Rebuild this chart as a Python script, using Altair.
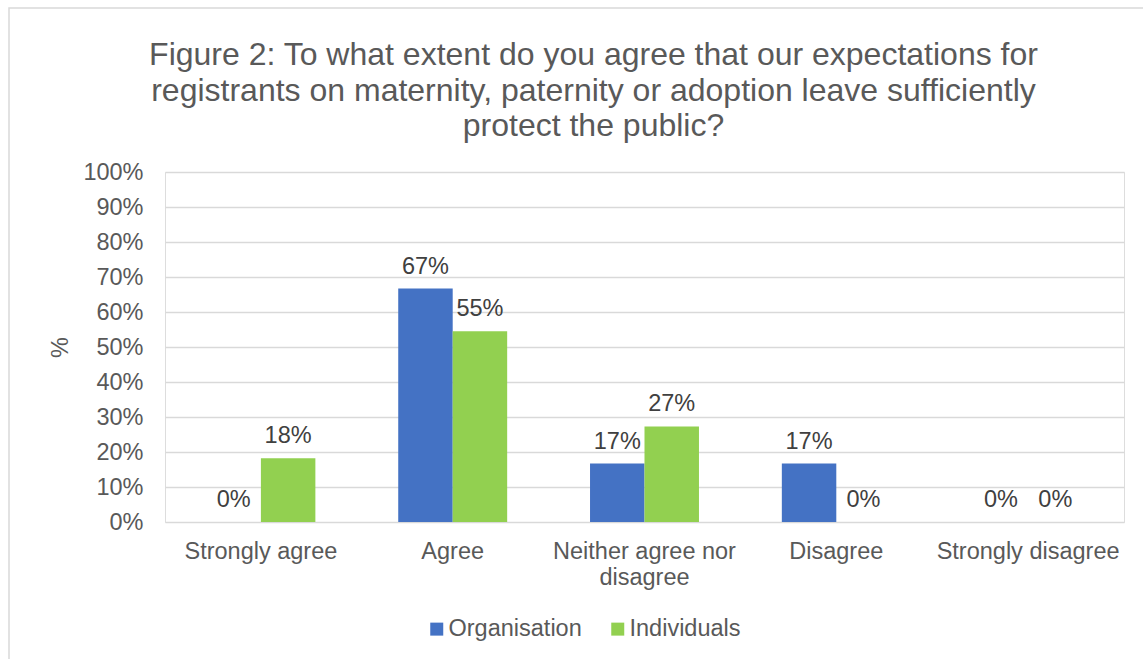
import altair as alt
import pandas as pd

categories = ["Strongly agree", "Agree", "Neither agree nor disagree", "Disagree", "Strongly disagree"]
organisation = [0.0, 66.7, 16.7, 16.7, 0.0]
individuals = [18.2, 54.5, 27.3, 0.0, 0.0]
series = ["Organisation", "Individuals"]
colors = ["#4472C4", "#92D050"]
y_ticks = list(range(0, 101, 10))
title_lines = [
    "Figure 2: To what extent do you agree that our expectations for",
    "registrants on maternity, paternity or adoption leave sufficiently",
    "protect the public?",
]

rows = []
for c, o, i in zip(categories, organisation, individuals):
    rows.append({"category": c, "series": "Organisation", "value": o})
    rows.append({"category": c, "series": "Individuals", "value": i})
df = pd.DataFrame(rows)
df["label"] = [f"{int(v + 0.5)}%" for v in df["value"]]

FONT = "Liberation Sans"
GREY = "#595959"

x = alt.X(
    "category:N",
    sort=categories,
    scale=alt.Scale(paddingInner=0.432, paddingOuter=0.216),
    axis=alt.Axis(
        title=None,
        labelExpr="datum.label == 'Neither agree nor disagree' ? ['Neither agree nor', 'disagree'] : datum.label",
        labelAngle=0,
        labelFontSize=23.5,
        labelColor=GREY,
        labelFont=FONT,
        labelPadding=17,
        labelLineHeight=26,
        labelLimit=400,
        domain=False,
        ticks=False,
        grid=False,
    ),
)
xoff = alt.XOffset("series:N", sort=series, scale=alt.Scale(paddingInner=0, paddingOuter=0))
y = alt.Y(
    "value:Q",
    scale=alt.Scale(domain=[0, 100]),
    axis=alt.Axis(
        title="%",
        values=y_ticks,
        labelExpr="datum.value + '%'",
        labelFontSize=23.5,
        labelColor=GREY,
        labelFont=FONT,
        labelPadding=22,
        titleFontSize=23.5,
        titleColor=GREY,
        titleFont=FONT,
        titleFontWeight="normal",
        titlePadding=10,
        domain=False,
        ticks=False,
        grid=True,
        gridColor="#d9d9d9",
        gridWidth=1.3,
    ),
)

bars = alt.Chart(df).mark_bar().encode(
    x=x,
    xOffset=xoff,
    y=y,
    color=alt.Color(
        "series:N",
        sort=series,
        scale=alt.Scale(domain=series, range=colors),
        legend=alt.Legend(
            title=None,
            orient="none",
            direction="horizontal",
            legendX=260,
            legendY=445,
            symbolType="square",
            symbolSize=169,
            symbolStrokeWidth=0,
            labelFontSize=23.5,
            labelColor=GREY,
            labelFont=FONT,
            labelOffset=0,
            columnPadding=24,
        ),
    ),
)

labels = alt.Chart(df).mark_text(
    baseline="alphabetic", dy=-15, fontSize=23.5, font=FONT, color="#404040"
).encode(x=x, xOffset=xoff, y=y, text="label:N")

border = alt.Chart(pd.DataFrame({"a": [0]})).mark_rect(
    fillOpacity=0, stroke="#d9d9d9", strokeWidth=1.5
).encode(
    x=alt.value(-156), x2=alt.value(1050), y=alt.value(-164), y2=alt.value(560)
)

chart = alt.layer(border, bars, labels).properties(
    width=959,
    height=350,
    title=alt.TitleParams(
        text=title_lines,
        fontSize=32,
        font=FONT,
        color=GREY,
        fontWeight="normal",
        lineHeight=35.5,
        anchor="middle",
        dx=-51,
        offset=-136,
    ),
    autosize=alt.AutoSizeParams(type="none"),
    padding={"left": 165, "top": 172, "right": 19, "bottom": 137},
).configure_view(stroke=None).configure(background="white")

chart.save("out.html", embed_options={"renderer": "svg", "actions": False})
